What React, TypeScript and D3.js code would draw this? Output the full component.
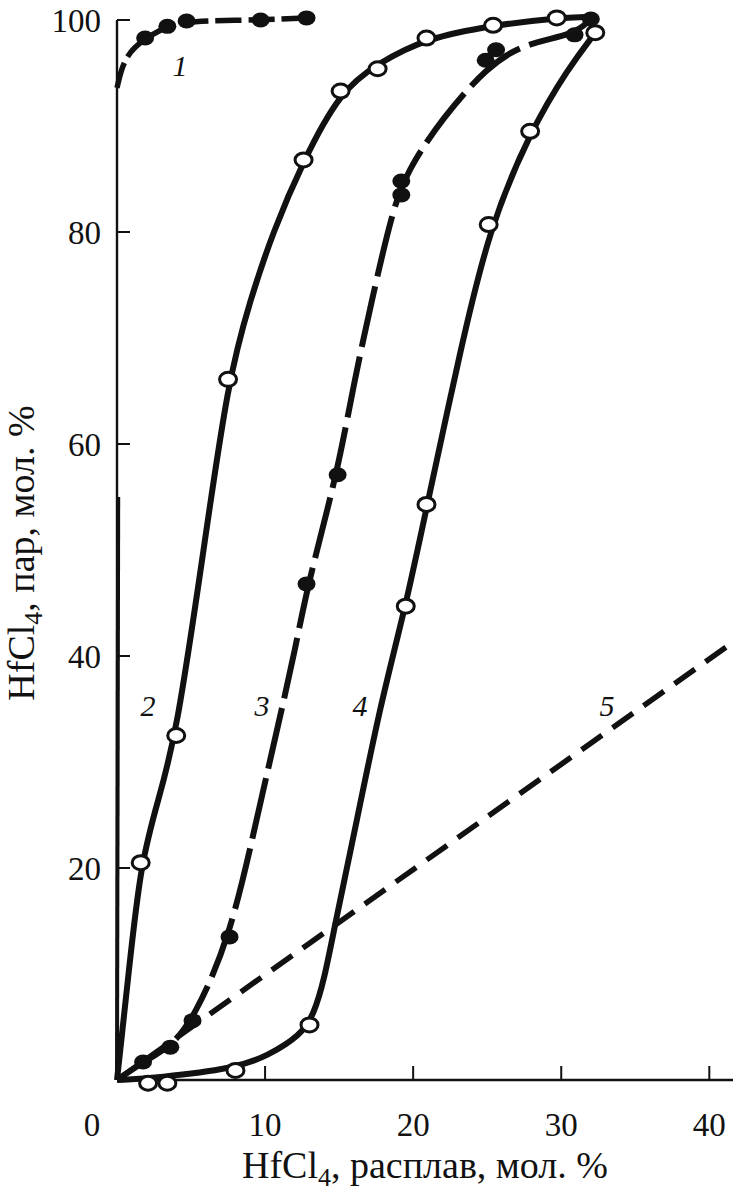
import React from "react";
import * as d3 from "d3";

type P = [number, number];

// Tick values
const xTicks = [10, 20, 30, 40];
const yTicks = [20, 40, 60, 80, 100];

// Series 1 (filled dots, dashed)
const s1Markers: P[] = [[1.9, 98.3], [3.4, 99.4], [4.7, 99.9], [9.7, 100.0], [12.8, 100.2]];
const s1Line: P[] = [[0, 93.6], [0.5, 96.6], [1.9, 98.3], [3.4, 99.4], [4.7, 99.9], [9.7, 100.0], [12.8, 100.2]];
const s1AxisLine: P[] = [[0, 0], [0.08, 55]];

// Series 2 (open circles, solid)
const s2Markers: P[] = [[1.6, 20.5], [4.0, 32.5], [7.5, 66.1], [12.6, 86.8], [15.1, 93.3], [17.6, 95.4], [20.9, 98.3], [25.4, 99.5], [29.7, 100.2]];
const s2Line: P[] = [[0, 0], [0.8, 10.3], [1.6, 20.5], [2.8, 26.5], [4.0, 32.5], [5.8, 49.5], [7.5, 66.1], [9.0, 73.6], [10.5, 79.9], [12.6, 86.8], [15.1, 93.3], [17.6, 95.9], [20.9, 98.3], [25.4, 99.5], [29.7, 100.2], [32, 100.3]];

// Series 3 (filled dots, long dashes)
const s3Markers: P[] = [[1.76, 1.7], [3.6, 3.1], [5.1, 5.6], [7.6, 13.5], [12.8, 46.8], [14.9, 57.1], [19.2, 84.8], [19.2, 83.5], [24.9, 96.2], [25.6, 97.2], [30.9, 98.6], [32.0, 100.1]];
const s3Line: P[] = [[0, 0], [1.76, 1.7], [3.58, 3.1], [5.14, 5.66], [7.64, 13.4], [9.46, 24.8], [11.0, 34.2], [12.03, 40.6], [12.9, 46.9], [14.86, 57.1], [16.0, 65.8], [17.2, 73.5], [18.58, 81.9], [19.6, 85.8], [22.0, 90.8], [25.0, 95.6], [27.5, 97.8], [30.9, 98.6], [32.0, 100.1]];

// Series 4 (open circles, solid)
const s4Markers: P[] = [[2.1, -0.3], [3.4, -0.3], [8.0, 0.9], [13.0, 5.2], [19.5, 44.7], [20.9, 54.3], [25.1, 80.7], [27.9, 89.5], [32.3, 98.8]];
const s4Line: P[] = [[0, 0], [2.7, 0.2], [8.0, 1.1], [10.2, 2.3], [12.4, 4.2], [13.3, 6.2], [14.0, 9.5], [14.7, 14.5], [16.2, 24.5], [17.8, 35.5], [19.5, 44.7], [20.95, 54.3], [23.2, 68.9], [25.1, 80.2], [27.9, 89.5], [30.5, 95.5], [32.3, 98.8]];

// Series 5 (dashed straight line)
const s5Line: P[] = [[0, 0], [41.6, 41.3]];

const W = 737;
const H = 1196;
const x = d3.scaleLinear().domain([0, 41.6]).range([117, 733]);
const y = d3.scaleLinear().domain([0, 100]).range([1080, 20]);

const smooth = d3.line<P>().x(d => x(d[0])).y(d => y(d[1])).curve(d3.curveBasis);
const straight = d3.line<P>().x(d => x(d[0])).y(d => y(d[1]));

const FONT = "'Liberation Serif', 'Times New Roman', serif";

export default function App() {
  const openM = (pts: P[], key: string) =>
    pts.map((d, i) => (
      <ellipse key={key + i} cx={x(d[0])} cy={y(d[1])} rx={8.5} ry={7} fill="#fff" stroke="#111" strokeWidth={3} />
    ));
  const fillM = (pts: P[], key: string) =>
    pts.map((d, i) => (
      <ellipse key={key + i} cx={x(d[0])} cy={y(d[1])} rx={9} ry={7.5} fill="#111" />
    ));
  return (
    <svg width={W} height={H} style={{ position: "absolute", left: 0, top: 0, background: "#fff" }} fontFamily={FONT}>
      {/* axes */}
      <line x1={x(0)} x2={x(0)} y1={y(0)} y2={y(100)} stroke="#111" strokeWidth={2.4} />
      <line x1={x(0)} x2={733} y1={y(0)} y2={y(0)} stroke="#111" strokeWidth={2.4} />
      {yTicks.map(t => (
        <g key={"yt" + t}>
          <line x1={x(0)} x2={x(0) + 13} y1={y(t)} y2={y(t)} stroke="#111" strokeWidth={2} />
          <text x={x(0) - 16} y={y(t)} dy="0.35em" textAnchor="end" fontSize={33} fill="#111">{t}</text>
        </g>
      ))}
      {xTicks.map(t => (
        <g key={"xt" + t}>
          <line x1={x(t)} x2={x(t)} y1={y(0)} y2={y(0) - 14} stroke="#111" strokeWidth={2} />
          <text x={x(t)} y={y(0) + 44} dy="0.35em" textAnchor="middle" fontSize={33} fill="#111">{t}</text>
        </g>
      ))}
      <text x={x(0) - 25} y={y(0) + 44} dy="0.35em" textAnchor="middle" fontSize={33} fill="#111">0</text>

      {/* axis titles */}
      <text x={425} y={1165} dy="0.35em" textAnchor="middle" fontSize={38} fill="#111">
        HfCl<tspan fontSize={26} dy="8">4</tspan><tspan dy="-8">, расплав, мол. %</tspan>
      </text>
      <text transform="translate(21,553) rotate(-90)" dy="0.35em" textAnchor="middle" fontSize={38} fill="#111">
        HfCl<tspan fontSize={26} dy="8">4</tspan><tspan dy="-8">, пар, мол. %</tspan>
      </text>

      {/* curve 5 */}
      <path d={straight(s5Line) || ""} fill="none" stroke="#111" strokeWidth={5.5} strokeDasharray="25 13" />
      {/* curve 1 */}
      <path d={straight(s1AxisLine) || ""} fill="none" stroke="#111" strokeWidth={4} />
      <path d={smooth(s1Line) || ""} fill="none" stroke="#111" strokeWidth={5.5} strokeDasharray="26 7" />
      {/* curve 2 */}
      <path d={smooth(s2Line) || ""} fill="none" stroke="#111" strokeWidth={6} />
      {/* curve 3 */}
      <path d={smooth(s3Line) || ""} fill="none" stroke="#111" strokeWidth={6} strokeDasharray="62 10" />
      {/* curve 4 */}
      <path d={smooth(s4Line) || ""} fill="none" stroke="#111" strokeWidth={6} />

      {fillM(s1Markers, "m1")}
      {openM(s2Markers, "m2")}
      {fillM(s3Markers, "m3")}
      {openM(s4Markers, "m4")}

      {/* curve labels */}
      <g fontStyle="italic" fontSize={30} fill="#111">
        <text x={180} y={65} dy="0.35em" textAnchor="middle">1</text>
        <text x={148} y={705} dy="0.35em" textAnchor="middle">2</text>
        <text x={262} y={705} dy="0.35em" textAnchor="middle">3</text>
        <text x={360} y={705} dy="0.35em" textAnchor="middle">4</text>
        <text x={607} y={705} dy="0.35em" textAnchor="middle">5</text>
      </g>
    </svg>
  );
}
